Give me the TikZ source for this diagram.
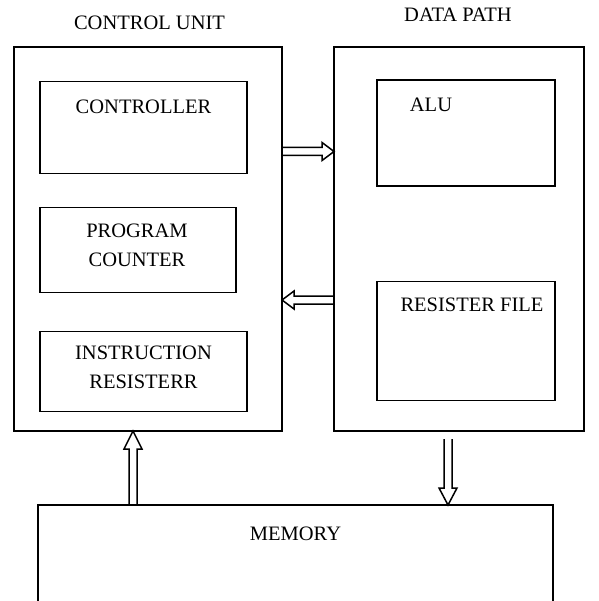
\documentclass[tikz,border=0pt]{standalone}
\usepackage{fontspec}
\setmainfont{Liberation Serif}
\usetikzlibrary{positioning,calc}

\begin{document}
\begin{tikzpicture}[x=1pt,y=-1pt,line width=1.5pt,
    caja/.style={draw,rectangle,outer sep=0pt,inner sep=0pt},
    texto/.style={inner sep=0pt,align=center,font=\fontsize{20.5}{29}\selectfont},
    %flecha gorda (tipo bloque), #1 es el largo de la punta
    flechota/.style={line width=1.3pt,to path={
      ($(\tikztostart)!4pt!90:(\tikztotarget)$)
      -- ($($(\tikztotarget)!#1!(\tikztostart)$)!4pt!90:(\tikztotarget)$)
      -- ($($(\tikztotarget)!#1!(\tikztostart)$)!9pt!90:(\tikztotarget)$)
      -- (\tikztotarget)
      -- ($($(\tikztotarget)!#1!(\tikztostart)$)!9pt!-90:(\tikztotarget)$)
      -- ($($(\tikztotarget)!#1!(\tikztostart)$)!4pt!-90:(\tikztotarget)$)
      -- ($(\tikztostart)!4pt!-90:(\tikztotarget)$)}},
    flechota/.default=12pt]
    \useasboundingbox (0,0) rectangle (598,601); %tamanio de la hoja

    %Las dos cajas grandes
    \node[caja,minimum width=268pt,minimum height=384pt] (cu) at (148,239) {};
    \node[caja,minimum width=250pt,minimum height=384pt,right=52pt of cu] (dp) {};
    %La memoria se sale de la hoja por abajo (queda abierta)
    \node[caja,minimum width=515pt,minimum height=140pt,below right=74pt and 24pt of cu.south west] (mem) {};

    %Cajitas de adentro
    \node[caja,minimum width=207pt,minimum height=92pt,below right=34.5pt and 26pt of cu.north west] (ctrl) {};
    \node[caja,minimum width=196pt,minimum height=85pt,below right=34pt and 0pt of ctrl.south west] (pc) {};
    \node[caja,minimum width=207pt,minimum height=80pt,below right=39pt and 0pt of pc.south west] (ir) {};
    \node[caja,minimum width=178pt,minimum height=106pt,below right=33pt and 43pt of dp.north west] (alu) {};
    \node[caja,minimum width=178pt,minimum height=119pt,below right=95.5pt and 0pt of alu.south west] (rf) {};

    %Los textos
    \node[texto,above=17pt of cu.north,xshift=1.5pt] (cu-txt) {CONTROL UNIT};
    \node[texto,above=24.5pt of dp.north,xshift=-1pt] (dp-txt) {DATA PATH};
    \node[texto,below=18pt of ctrl.north] (ctrl-txt) {CONTROLLER};
    \node[texto,below=16pt of pc.north,xshift=-1pt] (pc-txt) {PROGRAM\\COUNTER};
    \node[texto,below=14pt of ir.north] (ir-txt) {INSTRUCTION\\RESISTERR};
    \node[texto,below=17pt of alu.north,xshift=-35pt] (alu-txt) {ALU};
    \node[texto,below=16pt of rf.north,xshift=6pt] (rf-txt) {RESISTER FILE};
    \node[texto,below=21pt of mem.north] (mem-txt) {MEMORY};

    %Puntas de las flechas (sobre los bordes)
    \coordinate[below=104.5pt of cu.north east] (c2d-a);
    \coordinate[below=104.5pt of dp.north west] (c2d-b);
    \coordinate[below=253pt of dp.north west] (d2c-a);
    \coordinate[below=253pt of cu.north east] (d2c-b);
    \coordinate[right=95pt of mem.north west] (m2c-a);
    \coordinate[right=119pt of cu.south west] (m2c-b);
    \coordinate[below right=8pt and 114pt of dp.south west] (d2m-a);
    \coordinate[right=410pt of mem.north west] (d2m-b);

    %Flechas
    \draw (c2d-a) to[flechota] (c2d-b);
    \draw (d2c-a) to[flechota] (d2c-b);
    \draw (m2c-a) to[flechota=18pt] (m2c-b);
    \draw (d2m-a) to[flechota=17pt] (d2m-b);
\end{tikzpicture}
\end{document}
